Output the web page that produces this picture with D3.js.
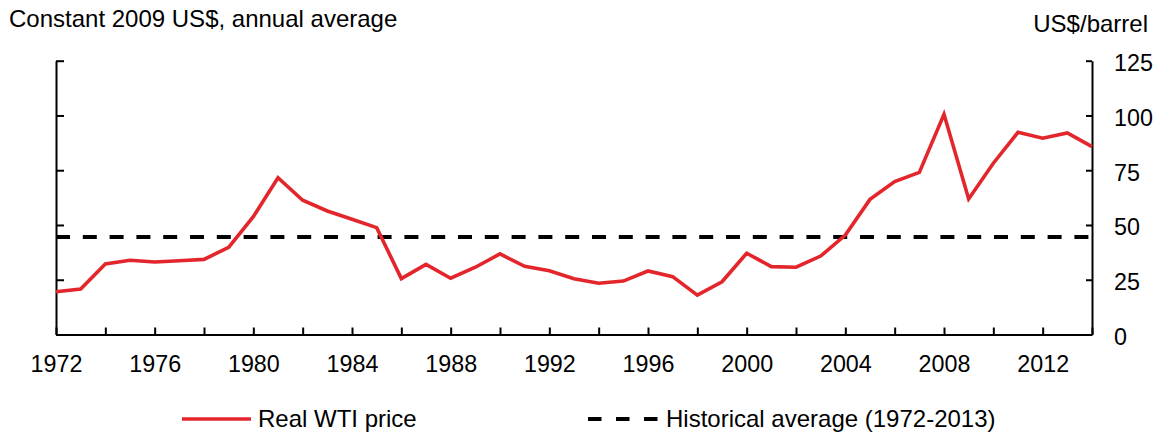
<!DOCTYPE html>
<html>
<head>
<meta charset="utf-8">
<script src="https://cdn.jsdelivr.net/npm/d3@7"></script>
<style>
  html, body { margin: 0; padding: 0; background: #fff; }
  svg { display: block; font-family: "Liberation Sans", Arial, sans-serif; }
</style>
</head>
<body>
<svg id="chart" width="1159" height="434"></svg>
<script>
// ---- data ----
const years = [1972,1973,1974,1975,1976,1977,1978,1979,1980,1981,1982,1983,1984,1985,1986,1987,1988,1989,1990,1991,1992,1993,1994,1995,1996,1997,1998,1999,2000,2001,2002,2003,2004,2005,2006,2007,2008,2009,2010,2011,2012,2013,2014];
const realWTI = [19.5,20.8,32.2,33.9,33.1,33.7,34.3,39.8,53.8,71.6,61.3,56.4,52.6,48.8,25.5,32.0,25.7,30.7,36.8,31.1,29.1,25.5,23.4,24.4,29.0,26.4,18.0,24.1,37.1,31.0,30.7,35.8,45.4,61.7,69.8,74.0,100.5,61.9,78.2,92.3,89.6,92.0,85.8];
const historicalAverage = 44.5;
const xTickYears = [1972,1974,1976,1978,1980,1982,1984,1986,1988,1990,1992,1994,1996,1998,2000,2002,2004,2006,2008,2010,2012,2014];
const xLabelYears = [1972,1976,1980,1984,1988,1992,1996,2000,2004,2008,2012];
const yTicks = [0,25,50,75,100,125];
const seriesNames = ["Real WTI price", "Historical average (1972-2013)"];
const titleLeft = "Constant 2009 US$, annual average";
const titleRight = "US$/barrel";

(function () {
  const svg = d3.select("#chart");
  const mLeft = 56, mRight = 1092, mTop = 60.7, mBottom = 334.5;
  const FS = 23.3;   // tick labels
  const FT = 24;     // titles and legend
  const red = "#e3262b";

  const x = d3.scaleLinear().domain([1972, 2014]).range([mLeft, mRight]);
  const y = d3.scaleLinear().domain([0, 125]).range([mBottom, mTop]);

  // left axis (ticks only, pointing in)
  const gl = svg.append("g").attr("transform", `translate(${mLeft},0)`)
    .call(d3.axisLeft(y).tickValues(yTicks).tickSizeInner(-8).tickSizeOuter(0).tickFormat(""));
  // right axis with labels
  const gr = svg.append("g").attr("transform", `translate(${mRight},0)`)
    .call(d3.axisRight(y).tickValues(yTicks).tickSizeInner(-6).tickSizeOuter(0).tickPadding(22));
  gr.selectAll("text").attr("dy", "0.42em");
  // bottom axis
  const gb = svg.append("g").attr("transform", `translate(0,${mBottom})`)
    .call(d3.axisBottom(x).tickValues(xTickYears).tickSizeInner(-7).tickSizeOuter(0).tickPadding(21)
      .tickFormat(d => xLabelYears.includes(d) ? String(d) : ""));

  [gl, gr, gb].forEach(g => {
    g.select(".domain").attr("stroke", "#000").attr("stroke-width", 2);
    g.selectAll(".tick line").attr("stroke", "#000").attr("stroke-width", 2);
    g.selectAll("text").attr("fill", "#000").attr("font-size", FS).attr("font-family", "Liberation Sans, Arial, sans-serif");
  });
  gr.selectAll("text").attr("text-anchor", "start");

  // historical average dashed line
  svg.append("line")
    .attr("x1", x(1972)).attr("x2", x(2014))
    .attr("y1", y(historicalAverage)).attr("y2", y(historicalAverage))
    .attr("stroke", "#000").attr("stroke-width", 4)
    .attr("stroke-dasharray", "14,12.8");

  // real WTI line
  const line = d3.line().x((d, i) => x(years[i])).y(d => y(d));
  svg.append("path")
    .datum(realWTI)
    .attr("d", line)
    .attr("fill", "none")
    .attr("stroke", red)
    .attr("stroke-width", 3.6)
    .attr("stroke-linejoin", "miter");

  // titles
  svg.append("text").attr("x", 9).attr("y", 27).attr("font-size", FT).attr("fill", "#000").text(titleLeft);
  svg.append("text").attr("x", 1148).attr("y", 32).attr("text-anchor", "end").attr("font-size", FT).attr("fill", "#000").text(titleRight);

  // legend
  const ly = 419;
  svg.append("line").attr("x1", 182).attr("x2", 251).attr("y1", ly).attr("y2", ly)
    .attr("stroke", red).attr("stroke-width", 3.6);
  svg.append("text").attr("x", 258).attr("y", 427).attr("font-size", FT).attr("fill", "#000").text(seriesNames[0]);
  svg.append("line").attr("x1", 588).attr("x2", 657.5).attr("y1", ly).attr("y2", ly)
    .attr("stroke", "#000").attr("stroke-width", 4).attr("stroke-dasharray", "13.5,14.5");
  svg.append("text").attr("x", 666).attr("y", 427).attr("font-size", FT).attr("fill", "#000").text(seriesNames[1]);
})();
</script>
</body>
</html>
